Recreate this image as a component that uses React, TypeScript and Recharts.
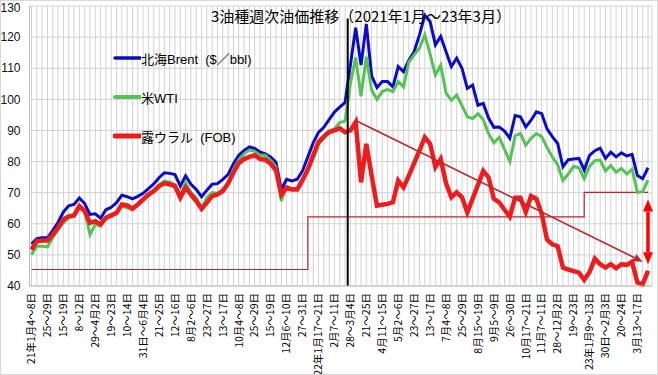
import React from "react";
import { LineChart, Line, XAxis, YAxis, CartesianGrid, ReferenceLine, Legend } from "recharts";

// x-axis labels, one every 3 weeks (week 0 = 2021/1/4)
const tickLabels = [
  "21年1月4～8日", "25～29日", "15～19日", "8～12日", "29～4月2日", "19～23日", "10～14日",
  "31日～6月4日", "21～25日", "12～16日", "8月2～6日", "23～27日", "13～17日", "10月4～8日",
  "25～29日", "15～19日", "12月6～10日", "27～31日", "22年1月17～21日", "2月7～11日",
  "28～3月4日", "21～25日", "4月11～15日", "5月2～6日", "23～27日", "13～17日", "7月4～8日",
  "25～29日", "8月15～19日", "9月5～9日", "26～30日", "10月17～21日", "11月7～11日",
  "28～12月2日", "19～23日", "23年1月9～13日", "30日～2月3日", "20～24日", "3月13～17日",
];

const brent = [
  53.5, 55.2, 55.5, 55.5, 57.8, 60.5, 63.8, 65.8, 66.2, 68.3,
  66.5, 63.0, 63.2, 61.8, 64.5, 65.3, 66.8, 69.2, 68.7, 68.0,
  68.8, 69.8, 71.3, 72.8, 74.8, 76.4, 76.2, 75.8, 72.1, 75.4,
  72.7, 71.0, 68.7, 70.8, 72.7, 72.9, 74.3, 75.9, 79.3, 82.0,
  83.6, 84.7, 84.2, 83.1, 82.5, 81.5, 79.8, 71.0, 74.3, 73.8,
  74.3, 77.0, 81.5, 86.0, 89.4, 91.0, 93.5, 95.9, 97.5, 99.0,
  111.0, 123.0, 111.0, 124.2, 107.5, 103.8, 105.7, 105.7, 104.0, 110.5,
  108.9, 112.6, 115.3, 120.7, 127.0, 125.0, 117.5, 120.2, 115.3, 110.5,
  113.2, 110.0, 103.5, 104.6, 98.1, 98.7, 94.0, 91.0, 91.1, 89.8,
  87.5, 94.8, 94.4, 91.1, 93.3, 96.0, 95.4, 90.5, 88.0, 85.8,
  78.3, 80.6, 80.8, 81.0, 77.3, 82.0, 83.5, 84.3, 81.0, 83.0,
  81.5, 82.8, 81.8, 82.3, 75.5, 74.5, 78.0,
];

const wti = [
  50.1, 52.8, 52.8, 52.6, 55.5, 58.1, 60.3, 61.9, 62.4, 65.5,
  64.1, 56.5, 59.8, 59.2, 61.9, 62.4, 63.5, 65.7, 65.1, 64.6,
  66.2, 67.8, 69.1, 70.5, 72.5, 73.7, 73.4, 72.5, 69.4, 73.2,
  70.0, 68.4, 65.0, 68.4, 70.0, 69.8, 71.1, 72.7, 77.5, 80.5,
  82.5, 83.7, 83.3, 82.0, 82.0, 80.3, 78.3, 67.3, 72.0, 71.3,
  71.5, 74.5, 77.0, 81.0, 85.5, 87.5, 89.8, 90.5, 92.5, 93.0,
  105.0, 113.5, 101.0, 113.7, 103.0, 100.0, 102.5, 103.2, 102.5, 105.7,
  104.0, 112.0, 114.3, 116.4, 120.7, 114.5, 107.8, 111.0, 102.0, 99.7,
  101.4, 98.0, 94.4, 93.8, 95.4, 93.5, 89.0, 86.0, 87.8, 84.0,
  80.0, 88.3, 89.0, 85.2, 87.5, 89.0, 88.0, 84.5, 81.5, 79.0,
  73.9, 76.0, 78.5, 78.0, 74.5, 78.5, 80.3, 80.5, 77.0, 78.7,
  76.6, 77.8, 76.0, 77.6, 70.1, 70.3, 74.0,
];

const urals = [
  51.7, 54.4, 54.6, 54.6, 56.5, 58.7, 61.4, 62.4, 62.7, 65.7,
  64.1, 60.3, 60.8, 59.8, 61.9, 62.7, 63.5, 66.2, 65.9, 64.8,
  66.2, 67.8, 69.4, 70.5, 72.1, 73.0, 72.7, 72.1, 68.4, 71.6,
  69.4, 67.3, 64.8, 66.8, 68.9, 69.4, 70.5, 73.0, 76.5, 79.5,
  80.8, 81.5, 82.0, 80.8, 80.6, 79.3, 77.2, 69.4, 71.6, 71.0,
  71.0, 74.0, 77.5, 82.0, 86.3, 88.0, 89.5, 90.0, 90.7, 89.4,
  90.0, 92.7, 73.3, 85.7, 75.5, 65.8, 66.1, 66.4, 66.9, 73.9,
  71.7, 75.5, 79.5, 83.5, 87.8, 85.7, 78.2, 80.8, 73.0, 68.5,
  70.1, 68.5, 63.6, 68.0, 72.5, 77.0, 74.9, 68.0, 66.9, 64.5,
  62.3, 68.4, 68.4, 63.8, 68.9, 68.0, 63.3, 54.9, 53.4, 52.8,
  45.9, 45.3, 44.8, 44.3, 42.0, 44.5, 48.8, 47.0, 45.9, 47.0,
  45.7, 47.0, 46.8, 47.8, 41.1, 40.5, 44.9,
];

// Russian budget oil price assumption per year, and the week each one starts
const budgetLevels = [45.3, 62.2, 70.1];
const budgetFromWeek = [0, 52, 104];

// annotations
const invasionWeek = 59.5;
const invasionTop = 126;
const trendFrom = { week: 61, value: 93.2 };
const trendTo = { week: 115, value: 47.8 };
const gapWeek = 116;
const gapTop = 67.8;
const gapBottom = 47.0;

const yTicks = [40, 50, 60, 70, 80, 90, 100, 110, 120, 130];

const BLUE = "#0c0cc4";
const GREEN = "#55c255";
const RED = "#ee1c1c";
const DARKRED = "#b8272c";
const FONT = "'Liberation Sans', 'Noto Sans CJK JP', sans-serif";
const CJK = "'Noto Sans CJK JP', sans-serif";

const weeks = brent.map((_, i) => i);
const rows = weeks.map(i => {
  let b = budgetLevels[0];
  budgetFromWeek.forEach((w, k) => { if (i >= w) b = budgetLevels[k]; });
  return { week: i, brent: brent[i], wti: wti[i], urals: urals[i], budget: b };
});

const legendItems = [
  { label: "北海Brent  ($／bbl)", color: BLUE, w: 3.5 },
  { label: "米WTI", color: GREEN, w: 4 },
  { label: "露ウラル  (FOB)", color: RED, w: 5 },
];

function WeekTick(props: any) {
  const { x, y, payload } = props;
  const i = payload.value as number;
  if (i % 3 !== 0) return <g />;
  return (
    <text x={x} y={y} transform={`rotate(-90, ${x}, ${y})`} textAnchor="end" dy="0.36em"
      fontSize={10.5} fontFamily={CJK} fill="#000">
      {tickLabels[i / 3]}
    </text>
  );
}

function head(x1: number, y1: number, x2: number, y2: number, len: number, half: number) {
  const a = Math.atan2(y2 - y1, x2 - x1);
  const bx = x2 - len * Math.cos(a), by = y2 - len * Math.sin(a);
  const nx = -Math.sin(a) * half, ny = Math.cos(a) * half;
  return { pts: `${x2},${y2} ${bx + nx},${by + ny} ${bx - nx},${by - ny}`, bx, by };
}

function TrendArrow(p: any) {
  const h = head(p.x1, p.y1, p.x2, p.y2, 9, 4);
  return (
    <g>
      <line x1={p.x1} y1={p.y1} x2={h.bx} y2={h.by} stroke={DARKRED} strokeWidth={1.6} />
      <polygon points={h.pts} fill={DARKRED} />
    </g>
  );
}

function GapArrow(p: any) {
  const a = head(p.x1, p.y1, p.x2, p.y2, 12, 5);
  const b = head(p.x2, p.y2, p.x1, p.y1, 12, 5);
  return (
    <g>
      <line x1={b.bx} y1={b.by} x2={a.bx} y2={a.by} stroke="#ff0000" strokeWidth={3.5} />
      <polygon points={a.pts} fill="#ff0000" />
      <polygon points={b.pts} fill="#ff0000" />
    </g>
  );
}

function LegendBox() {
  return (
    <div style={{ display: "flex", flexDirection: "column", gap: 19 }}>
      {legendItems.map(it => (
        <div key={it.label} style={{ display: "flex", alignItems: "center", height: 20 }}>
          <svg width={28} height={10}>
            <line x1={2} y1={5} x2={27} y2={5} stroke={it.color} strokeWidth={it.w} strokeLinecap="round" />
          </svg>
          <span style={{ fontSize: 13, whiteSpace: "pre", fontFamily: FONT, color: "#000" }}>{it.label}</span>
        </div>
      ))}
    </div>
  );
}

export default function App() {
  return (
    <div style={{ position: "absolute", left: 0, top: 0, width: 658, height: 375, background: "#fff" }}>
      <LineChart width={658} height={375} data={rows} margin={{ top: 6, right: 6, bottom: 0, left: 0 }}>
        <CartesianGrid stroke="#d2d2d2" />
        <XAxis type="number" dataKey="week" domain={[0, 116]} ticks={weeks} interval={0}
          padding={{ left: 2, right: 4 }} height={89} tickLine={false} tickSize={0} tickMargin={7}
          axisLine={{ stroke: "#bdbdbd" }} tick={<WeekTick />} />
        <YAxis domain={[40, 130]} ticks={yTicks} width={29.5} tickLine={false} tickSize={0} tickMargin={9}
          axisLine={{ stroke: "#bdbdbd" }} tick={{ fontSize: 12, fontFamily: FONT, fill: "#111" }} />
        <Legend layout="vertical" align="center" verticalAlign="middle"
          wrapperStyle={{ left: 113, top: 48, width: "auto", height: "auto" }}
          content={() => <LegendBox />} />
        <Line type="stepAfter" dataKey="budget" stroke={DARKRED} strokeWidth={1.2} dot={false} isAnimationActive={false} />
        <Line type="linear" dataKey="brent" stroke={BLUE} strokeWidth={3} dot={false} isAnimationActive={false} />
        <Line type="linear" dataKey="wti" stroke={GREEN} strokeWidth={3} dot={false} isAnimationActive={false} />
        <Line type="linear" dataKey="urals" stroke={RED} strokeWidth={4.5} dot={false} isAnimationActive={false} />
        <ReferenceLine segment={[{ x: invasionWeek, y: 40 }, { x: invasionWeek, y: invasionTop }]}
          stroke="#000" strokeWidth={2} />
        <ReferenceLine segment={[{ x: trendFrom.week, y: trendFrom.value }, { x: trendTo.week, y: trendTo.value }]}
          shape={TrendArrow} />
        <ReferenceLine segment={[{ x: gapWeek, y: gapTop }, { x: gapWeek, y: gapBottom }]}
          shape={GapArrow} />
      </LineChart>
      <div style={{ position: "absolute", left: 211, top: 7, fontSize: 15, lineHeight: "17px",
        fontFamily: CJK, color: "#000", whiteSpace: "pre" }}>
        3油種週次油価推移（2021年1月～23年3月）
      </div>
      <div style={{ position: "absolute", inset: 0, border: "1px solid #d9d9d9", pointerEvents: "none" }} />
    </div>
  );
}
